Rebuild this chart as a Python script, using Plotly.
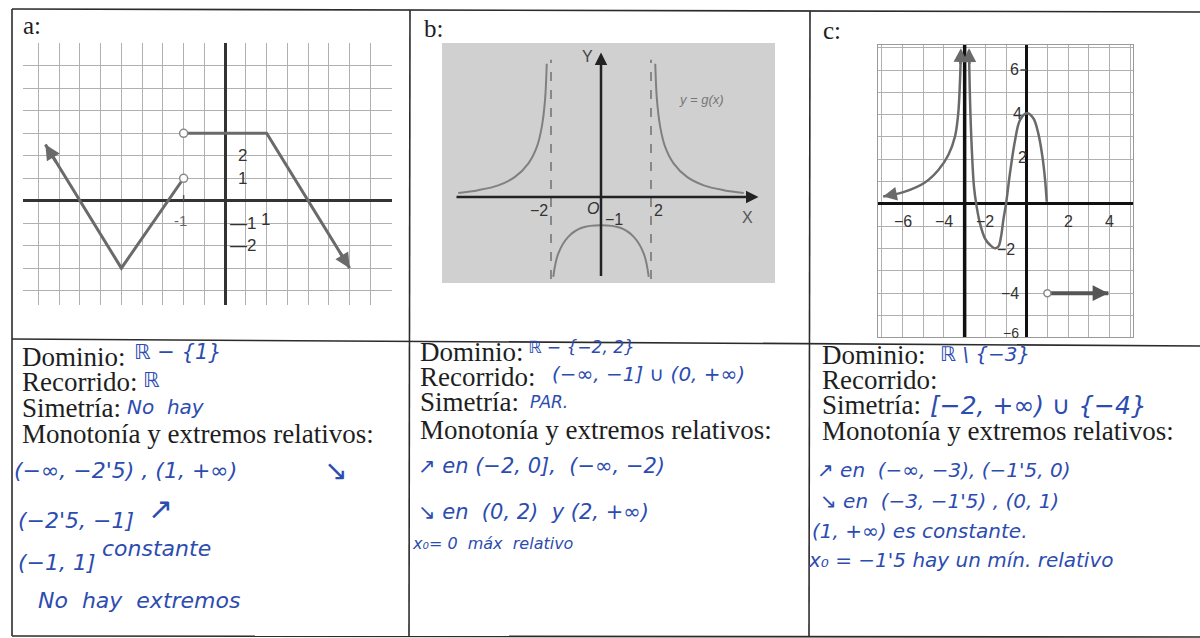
import plotly.graph_objects as go

W, H = 1200, 638


def px(x):
    return x / W


def py(y):
    return 1 - y / H


# ---------------- panel a: piecewise linear function ----------------
a_left_x = [-4.33, -2.5, -1.0]
a_left_y = [2.5, -3.0, 1.0]
a_right_x = [-1.0, 1.0, 3.0]
a_right_y = [3.0, 3.0, -3.0]
a_open_x = [-1.0, -1.0]
a_open_y = [1.0, 3.0]

# ---------------- panel b: y = g(x) ----------------
b_left_x = [-5.71, -4.91, -4.11, -3.44, -2.91, -2.57, -2.37, -2.24, -2.17]
b_left_y = [0.14, 0.24, 0.41, 0.71, 1.18, 1.76, 2.47, 3.41, 4.71]
b_mid_x = [-1.91, -1.71, -1.31, -0.77, 0.0, 0.77, 1.31, 1.71, 1.91]
b_mid_y = [-2.82, -2.0, -1.41, -1.09, -1.0, -1.09, -1.41, -2.0, -2.82]
b_right_x = [2.17, 2.24, 2.37, 2.57, 2.91, 3.44, 4.11, 4.91, 5.71]
b_right_y = [4.71, 3.41, 2.47, 1.76, 1.18, 0.71, 0.41, 0.24, 0.14]

# ---------------- panel c ----------------
c_left_x = [-6.94, -5.89, -4.92, -4.27, -3.79, -3.47, -3.31, -3.23, -3.18]
c_left_y = [0.33, 0.55, 0.96, 1.52, 2.19, 3.01, 4.06, 5.40, 6.85]
c_mid_x = [-2.79, -2.74, -2.66, -2.55, -2.42, -2.26, -2.02, -1.77, -1.53,
           -1.37, -1.24, -1.13, -1.0, -0.81, -0.56, -0.32, 0.0, 0.32, 0.56,
           0.76, 0.89, 0.97]
c_mid_y = [6.9, 4.66, 2.57, 0.78, -0.12, -0.87, -1.54, -1.84, -1.99,
           -1.91, -1.46, -0.72, 0.0, 1.37, 2.87, 3.76, 4.06, 3.84, 3.16,
           2.12, 1.07, 0.10]
c_const_x = [1.0, 3.95]
c_const_y = [-4.0, -4.0]

# ---------------- worksheet text ----------------
panel_titles = ["a:", "b:", "c:"]
row_labels = ["Dominio:", "Recorrido:", "Simetría:",
              "Monotonía y extremos relativos:"]

CURVE = "#6a6a6a"
INK = "#2d4cb0"
PRINT = "#1e1e1e"
LABEL_FONT = "Liberation Sans, Arial, sans-serif"
SERIF = "Liberation Serif, Times New Roman, serif"
HAND = "DejaVu Sans, sans-serif"

fig = go.Figure()

# panel a traces
fig.add_trace(go.Scatter(x=a_left_x, y=a_left_y, mode="lines",
                         line=dict(color=CURVE, width=3), xaxis="x", yaxis="y"))
fig.add_trace(go.Scatter(x=a_right_x, y=a_right_y, mode="lines",
                         line=dict(color=CURVE, width=3), xaxis="x", yaxis="y"))
fig.add_trace(go.Scatter(x=a_open_x, y=a_open_y, mode="markers",
                         marker=dict(color="white", size=8,
                                     line=dict(color="#8a8a8a", width=1.5)),
                         xaxis="x", yaxis="y"))

# panel b traces
for bx, by in [(b_left_x, b_left_y), (b_mid_x, b_mid_y), (b_right_x, b_right_y)]:
    fig.add_trace(go.Scatter(x=bx, y=by, mode="lines", line_shape="spline",
                             line=dict(color="#808080", width=2),
                             xaxis="x2", yaxis="y2"))
for xa in (-2, 2):
    fig.add_trace(go.Scatter(x=[xa, xa], y=[-2.9, 4.85], mode="lines",
                             line=dict(color="#6a6a6a", width=1.4, dash="dash"),
                             xaxis="x2", yaxis="y2"))

# panel c traces
fig.add_trace(go.Scatter(x=[-3, -3], y=[-6.2, 7.3], mode="lines",
                         line=dict(color="#111111", width=3.5),
                         xaxis="x3", yaxis="y3"))
fig.add_trace(go.Scatter(x=c_left_x, y=c_left_y, mode="lines", line_shape="spline",
                         line=dict(color=CURVE, width=2.5), xaxis="x3", yaxis="y3"))
fig.add_trace(go.Scatter(x=c_mid_x, y=c_mid_y, mode="lines", line_shape="spline",
                         line=dict(color=CURVE, width=2.5), xaxis="x3", yaxis="y3"))
fig.add_trace(go.Scatter(x=c_const_x, y=c_const_y, mode="lines",
                         line=dict(color="#555555", width=4), xaxis="x3", yaxis="y3"))
fig.add_trace(go.Scatter(x=[c_const_x[0]], y=[c_const_y[0]], mode="markers",
                         marker=dict(color="white", size=7,
                                     line=dict(color="#8a8a8a", width=1.5)),
                         xaxis="x3", yaxis="y3"))

annotations = []


def arrow(xh, yh, xt, yt, ax_, color, width, size=1.0):
    annotations.append(dict(x=xh, y=yh, ax=xt, ay=yt, xref=ax_[0], yref=ax_[1],
                            axref=ax_[0], ayref=ax_[1], text="", showarrow=True,
                            arrowhead=2, arrowsize=size, arrowwidth=width,
                            arrowcolor=color, standoff=0))


# arrowheads at the open ends of the curves
arrow(-4.33, 2.5, -4.05, 1.66, ("x", "y"), CURVE, 3, 1.0)
arrow(3.0, -3.0, 2.75, -2.25, ("x", "y"), CURVE, 3, 1.0)
arrow(6.3, 0, -5.84, 0, ("x2", "y2"), "#222222", 2.5, 1.0)
arrow(0, 5.1, 0, -2.85, ("x2", "y2"), "#222222", 2.5, 1.0)
arrow(-6.94, 0.33, -6.3, 0.45, ("x3", "y3"), CURVE, 2.5, 1.1)
arrow(-3.18, 6.97, -3.21, 6.2, ("x3", "y3"), CURVE, 2.5, 1.1)
arrow(-2.79, 6.97, -2.77, 6.2, ("x3", "y3"), CURVE, 2.5, 1.1)
arrow(3.95, -4.0, 3.2, -4.0, ("x3", "y3"), "#555555", 3.5, 0.9)


def label(text, x, y, xr, yr, size=16, color="#333333", italic=False):
    t = f"<i>{text}</i>" if italic else text
    annotations.append(dict(x=x, y=y, xref=xr, yref=yr, text=t, showarrow=False,
                            font=dict(family=LABEL_FONT, size=size, color=color)))


# panel a tick labels
label("2", 0.42, 2.0, "x", "y", size=17)
label("1", 0.42, 1.0, "x", "y", size=17)
label("—1", 0.42, -1.0, "x", "y", size=17)
label("—2", 0.42, -2.0, "x", "y", size=17)
label("1", 0.98, -0.85, "x", "y", size=17)
label("-1", -1.08, -0.9, "x", "y", size=15, color="#666666")

# panel b labels
label("Y", -0.55, 4.95, "x2", "y2", color="#444444")
label("O", -0.32, -0.42, "x2", "y2", color="#333333", italic=True)
label("−2", -2.5, -0.47, "x2", "y2")
label("2", 2.3, -0.47, "x2", "y2")
label("−1", 0.5, -0.78, "x2", "y2")
label("X", 5.85, -0.72, "x2", "y2", color="#555555")
label("y = g(x)", 4.0, 3.45, "x2", "y2", size=13, color="#777777", italic=True)

# panel c labels
label("6", -0.6, 6.0, "x3", "y3")
label("4", -0.45, 4.06, "x3", "y3")
label("2", -0.2, 2.1, "x3", "y3")
label("−2", -1.0, -2.06, "x3", "y3")
label("−4", -0.8, -4.0, "x3", "y3")
label("−6", -0.75, -5.8, "x3", "y3", size=14)
for xv, tx in [(-6, "−6"), (-4, "−4"), (-2, "−2"), (2, "2"), (4, "4")]:
    label(tx, xv, -0.8, "x3", "y3")


def ptext(text, x, y, size, color, family, italic=False):
    t = f"<i>{text}</i>" if italic else text
    annotations.append(dict(x=px(x), y=py(y), xref="paper", yref="paper",
                            xanchor="left", yanchor="middle", text=t,
                            showarrow=False,
                            font=dict(family=family, size=size, color=color)))


# panel titles
for t, (x, y) in zip(panel_titles, [(21, 26), (422, 28), (821, 30)]):
    ptext(t, x, y, 25, PRINT, SERIF)

# printed row labels of the three columns
row_y = [[357, 382, 408, 434], [352, 377, 402, 430], [355, 380, 405, 431]]
col_x = [20, 418, 820]
for cx, ys in zip(col_x, row_y):
    for txt, yy in zip(row_labels, ys):
        ptext(txt, cx, yy, 27, PRINT, SERIF)

# handwritten answers
hand = [
    ("ℝ − {1}", 132, 352, 21),
    ("ℝ", 141, 380, 21),
    ("No  hay", 125, 407, 20),
    ("(−∞, −2'5) , (1, +∞)", 12, 470, 22),
    ("↘", 322, 470, 28),
    ("(−2'5, −1]", 16, 520, 22),
    ("↗", 146, 508, 30),
    ("(−1, 1]", 16, 562, 22),
    ("constante", 100, 548, 22),
    ("No  hay  extremos", 36, 600, 22),
    ("ℝ − {−2, 2}", 526, 347, 17),
    ("(−∞, −1] ∪ (0, +∞)", 550, 374, 20),
    ("PAR.", 528, 402, 17),
    ("↗ en (−2, 0],  (−∞, −2)", 416, 466, 21),
    ("↘ en  (0, 2)  y (2, +∞)", 416, 512, 21),
    ("x₀= 0  máx  relativo", 410, 543, 16),
    ("ℝ \\ {−3}", 938, 354, 20),
    ("[−2, +∞) ∪ {−4}", 928, 405, 25),
    ("↗ en  (−∞, −3), (−1'5, 0)", 815, 470, 20),
    ("↘ en  (−3, −1'5) , (0, 1)", 818, 501, 20),
    ("(1, +∞) es constante.", 810, 531, 20),
    ("x₀ = −1'5 hay un mín. relativo", 806, 560, 20),
]
for txt, x, y, s in hand:
    ptext(txt, x, y, s, INK, HAND, italic=True)

# table grid of the worksheet
LC = "#2b2b2b"
shapes = [
    dict(type="rect", xref="paper", yref="paper", x0=px(442), x1=px(775),
         y0=py(283), y1=py(43), fillcolor="#d0d0d0", line=dict(width=0),
         layer="below"),
    dict(type="line", xref="paper", yref="paper", x0=px(12), x1=px(1200),
         y0=py(9), y1=py(12), line=dict(color=LC, width=1.6)),
    dict(type="line", xref="paper", yref="paper", x0=px(12), x1=px(1200),
         y0=py(339), y1=py(346), line=dict(color=LC, width=1.6)),
    dict(type="line", xref="paper", yref="paper", x0=px(12), x1=px(1200),
         y0=py(636), y1=py(637), line=dict(color=LC, width=1.6)),
    dict(type="line", xref="paper", yref="paper", x0=px(12), x1=px(12),
         y0=py(9), y1=py(636), line=dict(color=LC, width=1.6)),
    dict(type="line", xref="paper", yref="paper", x0=px(410), x1=px(409),
         y0=py(10), y1=py(636), line=dict(color=LC, width=1.6)),
    dict(type="line", xref="paper", yref="paper", x0=px(810), x1=px(809),
         y0=py(11), y1=py(637), line=dict(color=LC, width=1.6)),
    # small tick at x = -1 in panel a
    dict(type="line", xref="x", yref="y", x0=-1, x1=-1, y0=0, y1=0.25,
         line=dict(color="#555555", width=1.5)),
    # tick at y = 6 in panel c
    dict(type="line", xref="x3", yref="y3", x0=-0.3, x1=0, y0=6, y1=6,
         line=dict(color="#444444", width=1.5)),
]

grid_a = "#b0b0b0"
fig.update_layout(
    width=W, height=H, margin=dict(l=0, r=0, t=0, b=0),
    paper_bgcolor="white", plot_bgcolor="rgba(0,0,0,0)",
    showlegend=False,
    xaxis=dict(domain=[px(23), px(392)], range=[-4.87, 4.02], dtick=0.5, tick0=0,
               showgrid=True, gridcolor=grid_a, gridwidth=1,
               zeroline=True, zerolinecolor="#333333", zerolinewidth=2.5,
               showticklabels=False, ticks="", fixedrange=True, anchor="y"),
    yaxis=dict(domain=[py(305), py(43)], range=[-4.64, 7.02], dtick=1, tick0=0,
               showgrid=True, gridcolor=grid_a, gridwidth=1,
               zeroline=True, zerolinecolor="#333333", zerolinewidth=2.5,
               showticklabels=False, ticks="", fixedrange=True, anchor="x"),
    xaxis2=dict(domain=[px(442), px(775)], range=[-6.36, 6.96],
                showgrid=False, zeroline=False, showticklabels=False,
                ticks="", fixedrange=True, anchor="y2"),
    yaxis2=dict(domain=[py(283), py(43)], range=[-3.04, 5.44],
                showgrid=False, zeroline=False, showticklabels=False,
                ticks="", fixedrange=True, anchor="x2"),
    xaxis3=dict(domain=[px(878), px(1133)], range=[-7.19, 5.14], dtick=1, tick0=0,
                showgrid=True, gridcolor="#b0b0b0", gridwidth=1,
                zeroline=True, zerolinecolor="#111111", zerolinewidth=3,
                showline=True, mirror=True, linecolor="#9a9a9a", linewidth=1,
                showticklabels=False, ticks="", fixedrange=True, anchor="y3"),
    yaxis3=dict(domain=[py(337), py(45)], range=[-5.96, 7.12], dtick=1, tick0=0,
                showgrid=True, gridcolor="#b0b0b0", gridwidth=1,
                zeroline=True, zerolinecolor="#111111", zerolinewidth=2.5,
                showline=True, mirror=True, linecolor="#9a9a9a", linewidth=1,
                showticklabels=False, ticks="", fixedrange=True, anchor="x3"),
    annotations=annotations,
    shapes=shapes,
)

fig.write_html("out.html")
